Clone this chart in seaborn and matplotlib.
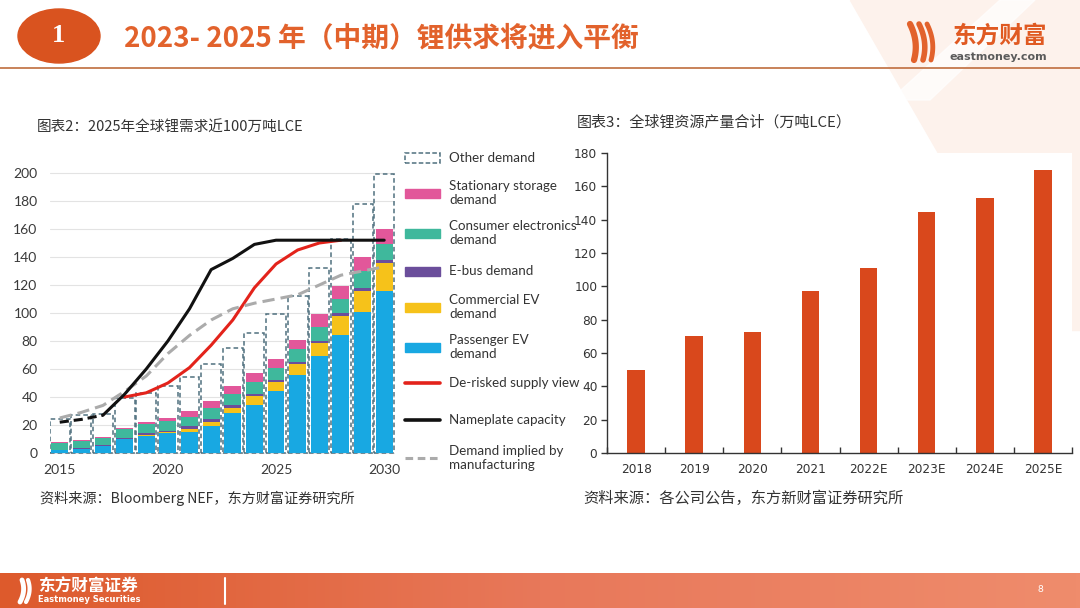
import numpy as np
import matplotlib
matplotlib.use("Agg")
import matplotlib.pyplot as plt
import matplotlib.patches as mpatches
from matplotlib.lines import Line2D
from matplotlib.colors import LinearSegmentedColormap
import seaborn as sns

# ---- data: chart 2 (BNEF lithium demand / supply) ----
years = list(range(2015, 2031))
passenger_ev = [2, 3, 5, 10, 12.5, 14, 15, 19.5, 28.5, 34.5, 44.5, 55.5, 69, 84, 101, 116]
commercial_ev = [0, 0, 0.3, 0.3, 0.5, 1, 2.5, 3, 4, 6, 6, 8, 9.5, 14, 15, 20]
ebus = [0.5, 0.5, 0.7, 0.7, 1, 1, 1.5, 1.5, 1.5, 1.5, 1.5, 1.5, 1.5, 2, 2, 2]
consumer_elec = [5, 5, 5, 6, 6.5, 7, 7, 8, 8.5, 9, 9, 9, 10, 10, 12, 11]
stationary = [0.5, 0.5, 0.5, 1, 1.5, 2, 4, 5.5, 5.5, 6, 6, 7, 9, 9, 10, 11]
other_demand = [16, 18, 16.5, 21, 21, 23, 24, 26, 27, 29, 32, 31, 33, 34, 38, 39]

nameplate = [22, 24, 27, 42, 60, 80, 103, 131, 139, 149, 152, 152, 152, 152, 152, 152]
derisked_years = list(range(2018, 2029))
derisked = [40, 43, 50, 61, 77, 95, 118, 135, 145, 150, 152]
implied_mfg = [25, 29, 34, 44, 55, 71, 84, 95, 103, 107, 110, 113, 120, 127, 130, 133]

# ---- data: chart 3 (global lithium resource output) ----
supply_labels = ["2018", "2019", "2020", "2021", "2022E", "2023E", "2024E", "2025E"]
supply_values = [50, 70, 72.5, 97, 111, 144.5, 153, 170]

C_BLUE = "#18a8e2"
C_YELLOW = "#f6c21a"
C_PURPLE = "#6b4e9b"
C_TEAL = "#3fb89c"
C_PINK = "#e2579a"
C_RED = "#e3231b"
C_GREY = "#ababab"
C_DASH = "#4f707e"
C_ORANGE = "#d9481c"

sns.set_theme(style="white")
plt.rcParams["font.family"] = ["Lato", "Noto Sans CJK SC", "DejaVu Sans"]
CJK = ["Noto Sans CJK SC", "DejaVu Sans"]

W, H = 1080, 608
fig = plt.figure(figsize=(10.8, 6.08), dpi=100, facecolor="white")


def fx(x):
    return np.asarray(x) / W


def fy(y):
    return 1 - np.asarray(y) / H


# background: faint peach corner with a white streak
fig.add_artist(mpatches.Polygon([(fx(850), fy(0)), (fx(1080), fy(0)), (fx(1080), fy(330)), (fx(1040), fy(330))],
                                closed=True, transform=fig.transFigure, color="#fdf2ec", zorder=0))
fig.add_artist(mpatches.Polygon([(fx(1000), fy(0)), (fx(1035), fy(0)), (fx(930), fy(100)), (fx(890), fy(100))],
                                closed=True, transform=fig.transFigure, color="white", alpha=0.7, zorder=0))

# header
fig.add_artist(mpatches.Ellipse((fx(59), fy(36)), fx(82), 54 / H, transform=fig.transFigure,
                                color="#d9531f", zorder=2))
fig.text(fx(59), fy(35), "1", color="white", fontsize=19, fontweight="bold",
         family=["Liberation Serif", "DejaVu Serif"], ha="center", va="center", zorder=3)
fig.text(fx(124), fy(38), "2023- 2025 年（中期）锂供求将进入平衡", color="#e2622c", fontsize=20,
         fontweight="bold", family=CJK, ha="left", va="center")
fig.add_artist(Line2D([0, 1], [fy(68), fy(68)], transform=fig.transFigure, color="#c4784c", lw=1.3))

# logo
t = np.linspace(0, 1, 30)
for dx, w in [(0, 4.5), (9, 4), (17, 3.5)]:
    xs = 910 + dx + 18 * t - 14 * t ** 2
    ys = 24 + 36 * t
    fig.add_artist(Line2D(fx(xs), fy(ys), transform=fig.transFigure, color="#e2622c",
                          lw=w, solid_capstyle="round"))
fig.text(fx(1000), fy(36), "东方财富", color="#e05a22", fontsize=17, fontweight="bold",
         family=CJK, ha="center", va="center")
fig.text(fx(998), fy(57), "eastmoney.com", color="#5b5b5b", fontsize=8, fontweight="bold",
         family=["DejaVu Sans"], ha="center", va="center")

# ---- left chart ----
ax = fig.add_axes([fx(50), fy(460), fx(345), 294 / H])
ax.set_facecolor("white")

totals_other = np.add.reduce([passenger_ev, commercial_ev, ebus, consumer_elec, stationary, other_demand])
sns.barplot(x=years, y=totals_other, native_scale=True, fill=False, color=C_DASH, width=0.92,
            linestyle=(0, (3, 2)), linewidth=1.1, errorbar=None, ax=ax, zorder=2)

layers = [passenger_ev, commercial_ev, ebus, consumer_elec, stationary]
colors = [C_BLUE, C_YELLOW, C_PURPLE, C_TEAL, C_PINK]
cums = np.cumsum(np.array(layers), axis=0)
for vals, col in reversed(list(zip(cums, colors))):
    sns.barplot(x=years, y=vals, native_scale=True, color=col, saturation=1, width=0.78,
                linewidth=0, errorbar=None, ax=ax, zorder=3)

sns.lineplot(x=years[:3], y=nameplate[:3], color="#111111", lw=2.2, linestyle=(0, (3, 1.6)),
             ax=ax, zorder=5)
sns.lineplot(x=years[2:], y=nameplate[2:], color="#111111", lw=2.2, ax=ax, zorder=5)
sns.lineplot(x=derisked_years, y=derisked, color=C_RED, lw=2.2, ax=ax, zorder=4)
sns.lineplot(x=years, y=implied_mfg, color=C_GREY, lw=2.2, linestyle=(0, (4, 2)), ax=ax, zorder=4)

ax.set_xlim(2014.55, 2030.5)
ax.set_ylim(-5, 205)
ax.set_yticks(range(0, 201, 20))
ax.set_xticks([2015, 2020, 2025, 2030])
ax.yaxis.grid(True, color="#e3e3e3", lw=0.8)
ax.set_axisbelow(True)
for s in ax.spines.values():
    s.set_visible(False)
ax.tick_params(axis="both", length=0, labelsize=10, labelcolor="#3a3a3a")
ax.tick_params(axis="y", pad=9)
ax.tick_params(axis="x", pad=3)
ax.set_xlabel("")
ax.set_ylabel("")

# legend, laid out entry by entry to keep even spacing
legend_labels = ["Other demand", "Stationary storage\ndemand", "Consumer electronics\ndemand",
                 "E-bus demand", "Commercial EV\ndemand", "Passenger EV\ndemand",
                 "De-risked supply view", "Nameplate capacity", "Demand implied by\nmanufacturing"]
legend_y = [158, 193, 233, 271, 307, 347, 383, 420, 458]
hx0, hx1 = 405, 440
for i, (lab, yc) in enumerate(zip(legend_labels, legend_y)):
    if i == 0:
        fig.add_artist(mpatches.Rectangle((fx(hx0), fy(yc + 5)), fx(hx1 - hx0), 10 / H,
                                          transform=fig.transFigure, facecolor="none",
                                          edgecolor=C_DASH, linestyle=(0, (3, 1.5)), lw=1.1))
    elif i <= 5:
        col = [C_PINK, C_TEAL, C_PURPLE, C_YELLOW, C_BLUE][i - 1]
        fig.add_artist(mpatches.Rectangle((fx(hx0), fy(yc + 4.5)), fx(hx1 - hx0), 9 / H,
                                          transform=fig.transFigure, color=col))
    else:
        col, ls, lw = [(C_RED, "-", 2.6), ("#111111", "-", 2.6), (C_GREY, (0, (2.5, 1.5)), 2.2)][i - 6]
        fig.add_artist(Line2D([fx(hx0), fx(hx1)], [fy(yc), fy(yc)], transform=fig.transFigure,
                              color=col, lw=lw, linestyle=ls))
    fig.text(fx(449), fy(yc), lab, fontsize=9.6, family=["Lato", "DejaVu Sans"], color="#333333",
             ha="left", va="center", linespacing=1.15)

fig.text(fx(37), fy(128), "图表2：2025年全球锂需求近100万吨LCE", fontsize=10.5, family=CJK,
         color="#333333", ha="left", va="center")
fig.text(fx(40), fy(498), "资料来源：Bloomberg NEF，东方财富证券研究所", fontsize=10.2, family=CJK,
         color="#333333", ha="left", va="center")

# ---- right chart ----
ax2 = fig.add_axes([fx(607), fy(453), fx(465), 300 / H])
ax2.set_facecolor("white")
sns.barplot(x=supply_labels, y=supply_values, color=C_ORANGE, saturation=1, width=0.3,
            linewidth=0, errorbar=None, ax=ax2)
ax2.set_xlim(-0.5, len(supply_labels) - 0.5)
ax2.set_ylim(0, 180)
ax2.set_yticks(range(0, 181, 20))
ax2.set_xticks(np.arange(-0.5, len(supply_labels)), minor=True)
for side in ["top", "right"]:
    ax2.spines[side].set_visible(False)
for side in ["left", "bottom"]:
    ax2.spines[side].set_color("#333333")
    ax2.spines[side].set_linewidth(1.0)
ax2.tick_params(axis="y", direction="out", length=4, width=1, color="#333333", labelsize=8.7,
                labelcolor="#333333", pad=3, left=True)
ax2.tick_params(axis="x", which="major", length=0, labelsize=8.7, labelcolor="#333333", pad=7)
ax2.tick_params(axis="x", which="minor", direction="in", length=4, width=1, color="#333333", bottom=True)
for lab in ax2.get_xticklabels() + ax2.get_yticklabels():
    lab.set_family(["DejaVu Sans"])
ax2.set_xlabel("")
ax2.set_ylabel("")

fig.text(fx(577), fy(122), "图表3：全球锂资源产量合计（万吨LCE）", fontsize=10.8, family=CJK,
         color="#333333", ha="left", va="center")
fig.text(fx(583), fy(498), "资料来源：各公司公告，东方新财富证券研究所", fontsize=11, family=CJK,
         color="#333333", ha="left", va="center")

# footer band
axf = fig.add_axes([0, 0, 1, 35 / H])
grad = np.linspace(0, 1, 256).reshape(1, -1)
cmap = LinearSegmentedColormap.from_list("foot", ["#dd5a2c", "#e8785a", "#ef8c6c"])
axf.imshow(grad, aspect="auto", cmap=cmap, extent=[0, 1, 0, 1])
axf.set_axis_off()
fig.add_artist(Line2D([fx(225), fx(225)], [fy(578), fy(604)], transform=fig.transFigure,
                      color="white", lw=1.5))
for dx, w in [(0, 3.5), (6, 3)]:
    xs = 22 + dx + 8 * t - 10 * t ** 2
    ys = 580 + 22 * t
    fig.add_artist(Line2D(fx(xs), fy(ys), transform=fig.transFigure, color="white", lw=w,
                          solid_capstyle="round"))
fig.text(fx(38), fy(587), "东方财富证券", color="white", fontsize=12, fontweight="bold",
         family=CJK, ha="left", va="center")
fig.text(fx(38), fy(600), "Eastmoney Securities", color="white", fontsize=6, fontweight="bold",
         family=["DejaVu Sans"], ha="left", va="center")
fig.text(fx(1040), fy(590), "8", color="white", fontsize=7, ha="center", va="center")

fig.savefig("out.png", dpi=100, facecolor="white")
